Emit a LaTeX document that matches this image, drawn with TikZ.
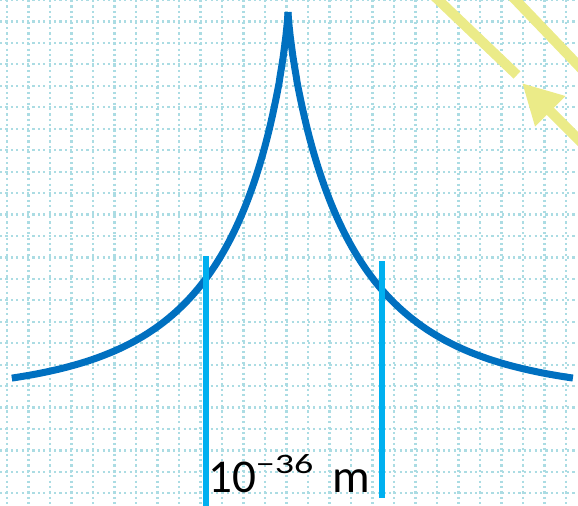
\documentclass[tikz,border=0pt]{standalone}
\usepackage{fontspec}
\setmainfont{Carlito}
\usepackage{xcolor}
\definecolor{curveblue}{HTML}{0070C0}
\definecolor{markblue}{HTML}{00B0F0}
\definecolor{griddot}{HTML}{ABDCE3}
\definecolor{beamyellow}{HTML}{EBEB88}
\usepackage{tikz}
\usetikzlibrary{arrows.meta}

\begin{document}
\begin{tikzpicture}[x=0.5mm, y=-0.5mm,
  gridline/.style={griddot, line width=1.1mm, dash pattern=on 1.1mm off 1.6mm},
  peak/.style={curveblue, line width=3.5mm},
  marker/.style={markblue, line width=3mm},
  beam/.style={beamyellow, line width=5mm},
  >=Triangle
]
  \useasboundingbox (0,0) rectangle (578,505);
  \clip (0,0) rectangle (578,505);

  % dotted grid
  \foreach \i in {0,...,26}
    \draw[gridline] (7+21.5*\i,0) -- (7+21.5*\i,505);
  \foreach \j in {0,...,23}
    \draw[gridline] (0,21.45*\j) -- (578,21.45*\j);

  % the cusp, d = t^2 from the top
  \draw[peak] plot[domain=0.05:16.62, samples=120]
    ({288-\x*\x}, {394.4-382.4*exp(-pow(\x*\x/65.7,0.8))});
  \draw[peak] plot[domain=0.05:16.88, samples=120]
    ({288+\x*\x}, {394.4-382.4*exp(-pow(\x*\x*0.968/65.7,0.8))});

  % width markers
  \coordinate (ltop) at (206,256);
  \coordinate (lbot) at (206,510);
  \coordinate (rtop) at (382,261);
  \coordinate (rbot) at (382,498);
  \draw[marker] (ltop) -- (lbot);
  \draw[marker] (rtop) -- (rbot);

  \node[anchor=base west, inner sep=0pt, font=\fontsize{67}{80}\selectfont]
    (size) at (208,492) {10\raisebox{27pt}{\scalebox{1.35}[1]{\fontsize{40}{44}\selectfont −36}}\hspace{27pt}m};

  % yellow beams
  \coordinate (b1s) at (430,-8);
  \coordinate (b1e) at (517,75);
  \coordinate (b2s) at (508,-8);
  \coordinate (b2e) at (598,86);
  \coordinate (tail) at (600,161);
  \coordinate (tip) at (522,83);
  \draw[beam] (b1s) -- (b1e);
  \draw[beam] (b2s) -- (b2e);
  \draw[beam, -{Triangle[length=20mm, width=20mm]}] (tail) -- (tip);
\end{tikzpicture}
\end{document}
